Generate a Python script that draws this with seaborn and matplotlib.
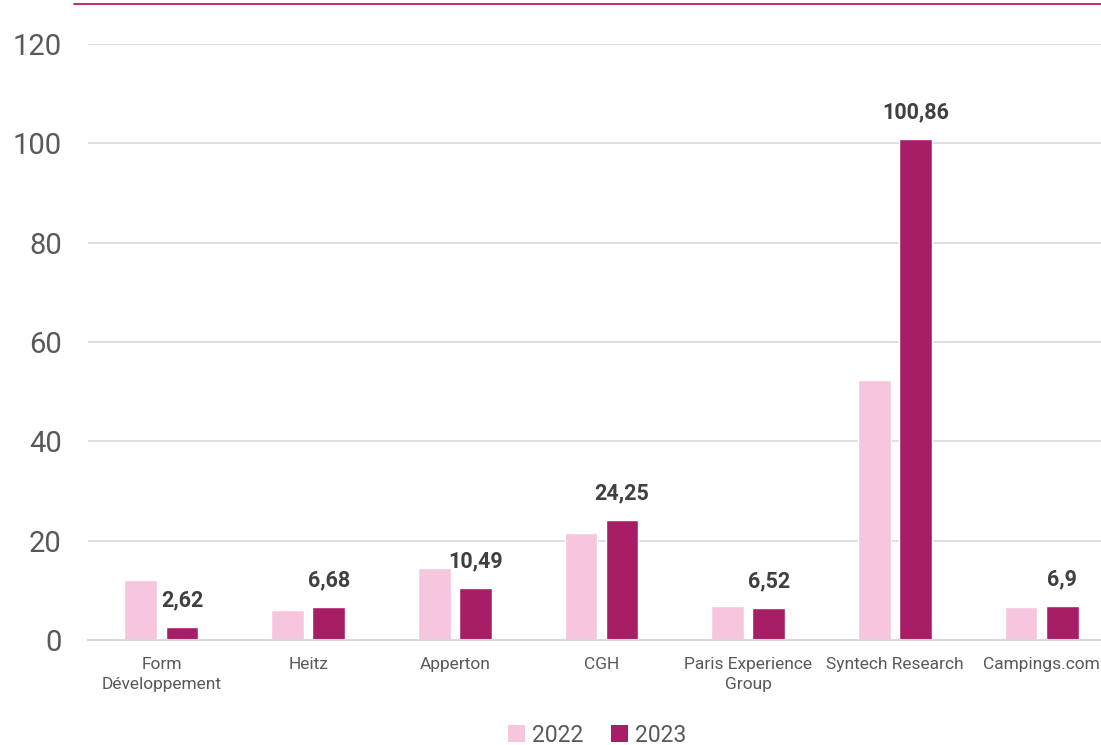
import matplotlib
matplotlib.use("Agg")
from matplotlib import pyplot as plt
from matplotlib.lines import Line2D
from matplotlib.patches import Patch
import pandas as pd
import seaborn as sns

companies = ['Form\nDéveloppement', 'Heitz', 'Apperton', 'CGH',
             'Paris Experience\nGroup', 'Syntech Research', 'Campings.com']
values_2022 = [12.0, 6.1, 14.4, 21.6, 6.8, 52.4, 6.6]
values_2023 = [2.62, 6.68, 10.49, 24.25, 6.52, 100.86, 6.9]
years = ['2022', '2023']
colors = ['#F5C6DE', '#A81E66']

df = pd.DataFrame({
    'company': companies * 2,
    'value': values_2022 + values_2023,
    'year': [years[0]] * len(companies) + [years[1]] * len(companies),
})

sns.set_theme(style='white')
plt.rcParams['font.family'] = ['Roboto', 'DejaVu Sans']

fig = plt.figure(figsize=(11.01, 7.45), dpi=100)
ax = fig.add_axes([0.08, 0.141, 0.92, 0.8])

sns.barplot(data=df, x='company', y='value', hue='year', palette=colors,
            width=0.56, gap=0.2, saturation=1, ax=ax, legend=False)

# labels only on the 2023 series
labels = [str(v).replace('.', ',') for v in values_2023]
ax.bar_label(ax.containers[1], labels=labels, padding=11,
             fontsize=15.5, fontweight='bold', color='#404040')

ax.set_ylim(0, 120)
ax.set_yticks(range(0, 121, 20))
ax.set_xlim(-0.5, 6.405)
ax.yaxis.grid(True, color='#D9D9D9', linewidth=1.2)
ax.set_axisbelow(True)
for s in ['top', 'right', 'left']:
    ax.spines[s].set_visible(False)
ax.spines['bottom'].set_color('#D9D9D9')
ax.spines['bottom'].set_linewidth(1.5)
ax.tick_params(axis='y', labelsize=21, labelcolor='#595959', length=0, pad=19)
ax.tick_params(axis='x', labelsize=12.5, labelcolor='#595959', length=0, pad=12)
for t in ax.get_xticklabels():
    t.set_linespacing(1.45)
ax.set_xlabel('')
ax.set_ylabel('')

# decorative rule at the very top
fig.add_artist(Line2D([74 / 1101, 1.0], [1 - 4 / 745, 1 - 4 / 745],
                      color='#C2185B', linewidth=1.3))

handles = [Patch(facecolor=c, edgecolor='none') for c in colors]
fig.legend(handles, years, loc='lower center', bbox_to_anchor=(0.542, -0.03),
           ncol=2, frameon=False, fontsize=16.5, handlelength=0.75,
           handleheight=0.75, handletextpad=0.3, columnspacing=1.2,
           labelcolor='#595959')

fig.savefig('out.png', dpi=100)
